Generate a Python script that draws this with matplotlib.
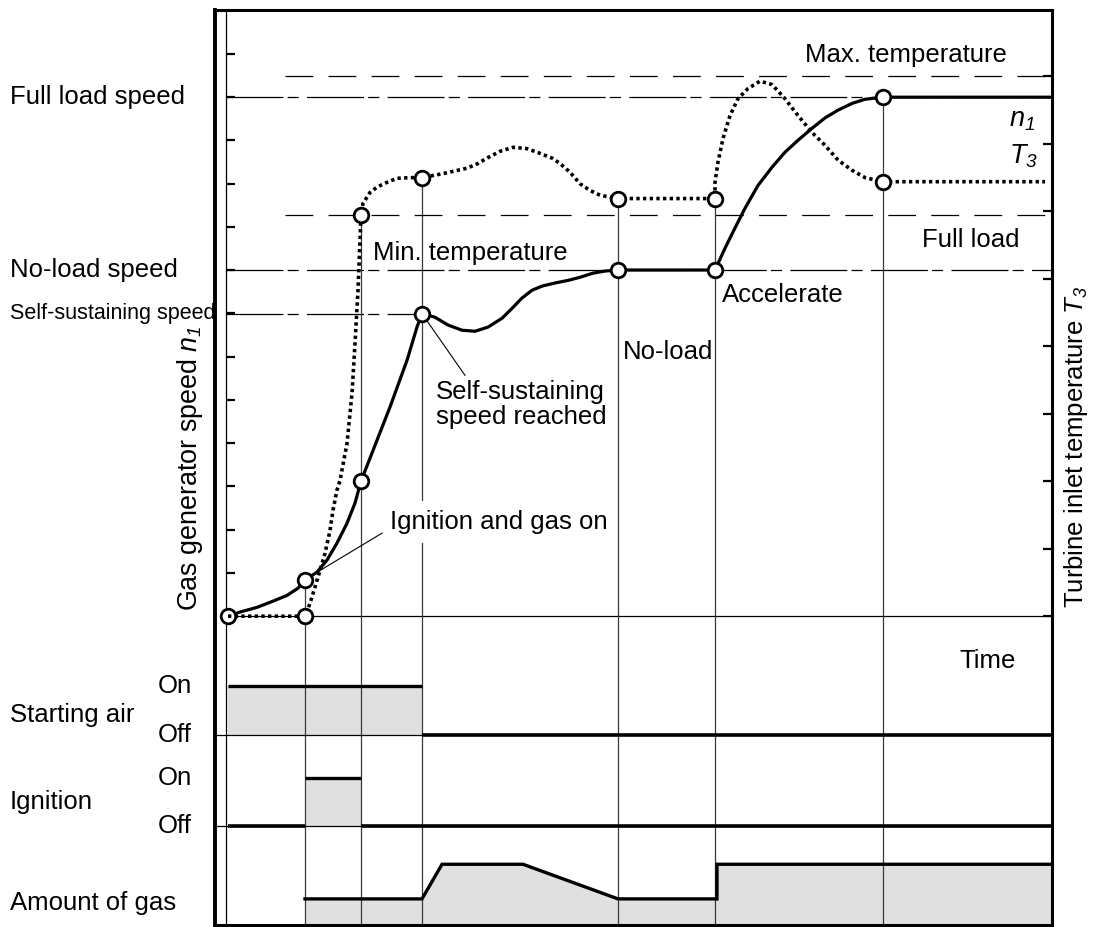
import numpy as np
import matplotlib.pyplot as plt
from matplotlib import font_manager
from matplotlib.transforms import blended_transform_factory

names = {f.name for f in font_manager.fontManager.ttflist}
plt.rcParams['font.family'] = 'Liberation Sans'
plt.rcParams['mathtext.fontset'] = 'custom'
plt.rcParams['mathtext.rm'] = 'Liberation Sans:italic'
plt.rcParams['mathtext.it'] = 'Liberation Sans:italic'
plt.rcParams['lines.scale_dashes'] = False

FS = 18.5

# event times (s) and the end of the time axis
events = [0, 7.7, 13.3, 19.4, 39.0, 48.7, 65.5]
t_end = 82.4

# gas generator speed n1, % of full load speed
n1_t = [0, 1.2, 2.9, 4.5, 5.9, 7.0, 7.7, 8.9, 9.9, 10.9, 11.9, 12.7, 13.3,
        14.9, 16.2, 17.9, 18.9, 19.4,
        20.7, 22.0, 23.4, 24.7, 26.0, 27.4, 28.4, 29.4, 30.4, 31.4, 32.7, 34.0,
        35.2, 36.5, 37.7, 39.0,
        48.7, 49.7, 50.7, 51.7, 53.0, 54.4, 55.7, 57.0, 58.4, 59.7, 61.0, 62.4,
        63.7, 65.5, 82.4]
n1_v = [0, 0.8, 1.7, 2.9, 4.0, 5.4, 6.9, 8.5, 10.8, 14.1, 17.9, 21.8, 26.0,
        33.9, 40.3, 49.3, 55.7, 58.3,
        57.6, 56.1, 55.1, 54.9, 55.7, 57.4, 59.3, 61.3, 62.8, 63.6, 64.2, 64.7,
        65.3, 66.1, 66.5, 66.7,
        66.7, 70.9, 74.8, 78.6, 83.0, 86.5, 89.4, 91.7, 94.0, 96.0, 97.5, 98.8,
        99.6, 100, 100]
n1_mark = [0, 6.9, 26.0, 58.3, 66.7, 66.7, 100]

# turbine inlet temperature T3, in right-axis tick steps
T3_t = [0, 7.7, 8.2, 8.7, 9.2, 9.7, 10.2, 10.5, 10.9, 11.2, 11.9, 12.4, 12.7,
        13.0, 13.2, 13.3,
        13.5, 14.2, 14.9, 15.9, 16.9, 18.2, 19.4,
        21.5, 23.9, 25.0, 25.9, 27.2, 28.5, 29.9, 31.2, 32.4, 33.2, 34.2, 35.2,
        36.2, 37.2, 38.2, 39.0,
        48.7, 48.7, 49.0, 49.5, 50.2, 51.0, 52.0, 53.2, 54.4, 55.7, 57.0, 58.4,
        59.7, 61.0, 62.4, 63.7, 65.5, 81.7]
T3_v = [0, 0, 0.19, 0.43, 0.68, 0.93, 1.27, 1.57, 1.87, 2.01, 2.56, 3.30, 4.04,
        4.83, 5.57, 5.95,
        6.12, 6.28, 6.36, 6.43, 6.49, 6.50, 6.50,
        6.56, 6.64, 6.71, 6.79, 6.89, 6.95, 6.93, 6.86, 6.79, 6.71, 6.58, 6.41,
        6.31, 6.24, 6.21, 6.19,
        6.19, 6.43, 6.73, 7.08, 7.42, 7.67, 7.82, 7.93, 7.88, 7.67, 7.42, 7.17,
        6.98, 6.76, 6.61, 6.50, 6.44, 6.44]
T3_mark_t = events[1:]
T3_mark = [0, 5.95, 6.50, 6.19, 6.19, 6.44]

full_load_speed = 100
no_load_speed = 66.7
self_sust_speed = 58.3
T3_max = 8.0
T3_min = 5.95
T3_SCALE = 13.0  # % of n1 per T3 step

# lower panel signals
air_on = (0, 19.4)
ign_on = (7.7, 13.3)
gas_t = [7.7, 19.4, 21.4, 29.5, 39.0, 48.9, 48.9, t_end]
gas_v = [0.43, 0.43, 1, 1, 0.43, 0.43, 1, 1]

# row levels of the lower panel (in n1 % units)
air_off, air_hi = -22.9, -13.5
ign_off, ign_hi = -40.5, -31.2
gas_zero, gas_span = -59.5, 11.7
ylo, yhi = -59.5, 116.8
xlo = -1.3
x_inner = -0.2

GRAY = '#e0e0e0'
VCOL = '#3a3a3a'

fig = plt.figure(figsize=(10.94, 9.27), dpi=100)
ax = fig.add_axes([215/1094, 2/927, 837/1094, 915/927])
ax.set_xlim(xlo, t_end)
ax.set_ylim(ylo, yhi)

# frame
for s in ['top', 'bottom']:
    ax.spines[s].set_linewidth(2.2)
ax.spines['right'].set_visible(False)
ax.spines['left'].set_position(('data', x_inner))
ax.spines['left'].set_linewidth(0.9)
ax.axvline(xlo, color='black', lw=2.8, clip_on=False)
ax.set_xticks([])
ax.set_yticks([k * 100 / 12 for k in range(1, 14)])
ax.tick_params(axis='y', direction='in', length=6.5, width=1.6, labelleft=False)

# reference lines
dashdot = (0, (41, 3, 8, 6))
dashed = (0, (20, 11))
ax.plot([x_inner, t_end], [full_load_speed] * 2, color='black', lw=0.9, linestyle=dashdot, zorder=1)
ax.plot([x_inner, t_end], [no_load_speed] * 2, color='black', lw=0.9, linestyle=dashdot, zorder=1)
ax.plot([x_inner, events[3]], [self_sust_speed] * 2, color='black', lw=0.9, linestyle=dashdot, zorder=1)
ax.plot([x_inner, t_end], [0, 0], color='black', lw=0.9, zorder=1)

# vertical event lines from the highest marker down
tops = [max(a, b * T3_SCALE) for a, b in zip(n1_mark[1:], T3_mark)]
ax.vlines(events[1:], ylo, tops, color=VCOL, lw=0.9, zorder=1)

# n1 curve
ax.plot(n1_t, n1_v, color='black', lw=2.3, solid_joinstyle='round', zorder=3)
ax.plot(events, n1_mark, 'o', ms=10.5, mfc='white', mec='black', mew=2, zorder=6)

# T3 on its own scale
tw = ax.twinx()
tw.set_ylim(ylo / T3_SCALE, yhi / T3_SCALE)
for s in ['top', 'bottom', 'left']:
    tw.spines[s].set_visible(False)
tw.spines['right'].set_linewidth(2.2)
tw.set_yticks(range(0, 9))
tw.tick_params(axis='y', direction='in', length=6.5, width=1.6, labelright=False)
tw.plot([5.7, 81.7], [T3_max] * 2, color='black', lw=0.9, linestyle=dashed, zorder=1)
tw.plot([5.7, 81.7], [T3_min] * 2, color='black', lw=0.9, linestyle=dashed, zorder=1)
tw.plot(T3_t, T3_v, color='black', lw=2.6, linestyle=(0, (2.4, 2.4)),
        dash_capstyle='butt', zorder=3)
tw.plot(T3_mark_t, T3_mark, 'o', ms=10.5, mfc='white', mec='black', mew=2, zorder=6)

# lower panel: starting air
ax.fill_between(air_on, air_off, air_hi, color=GRAY, lw=0, zorder=0.5)
ax.plot([xlo, air_on[1]], [air_off] * 2, color='black', lw=0.9, zorder=1.5)
ax.plot(air_on, [air_hi] * 2, color='black', lw=2.4, solid_capstyle='butt', zorder=2)
ax.plot([air_on[1], t_end], [air_off] * 2, color='black', lw=2.6, solid_capstyle='butt', zorder=2)

# ignition
ax.fill_between(ign_on, ign_off, ign_hi, color=GRAY, lw=0, zorder=0.5)
ax.plot([xlo, t_end], [ign_off] * 2, color='black', lw=0.9, zorder=1.5)
ax.plot(ign_on, [ign_hi] * 2, color='black', lw=2.4, solid_capstyle='butt', zorder=2)
ax.plot([0, ign_on[0]], [ign_off] * 2, color='black', lw=2.6, solid_capstyle='butt', zorder=2)
ax.plot([ign_on[1], t_end], [ign_off] * 2, color='black', lw=2.6, solid_capstyle='butt', zorder=2)

# amount of gas
gas_y = gas_zero + gas_span * np.array(gas_v)
ax.fill_between(gas_t, gas_zero, gas_y, color=GRAY, lw=0, zorder=0.5)
ax.plot(gas_t, gas_y, color='black', lw=2.4, solid_joinstyle='miter', zorder=2)

# leader lines
ax.plot([19.4, 23.7], [58.3, 46.4], color='black', lw=0.8, zorder=4)
ax.plot([7.9, 15.4], [7.3, 16.0], color='black', lw=0.8, zorder=4)

# texts inside the frame
ax.text(57.7, 108.1, 'Max. temperature', fontsize=FS, va='center')
ax.text(80.7, 95.6, r'$n_1$', fontsize=FS + 1, ha='right', va='center')
ax.text(81.0, 88.6, r'$T_3$', fontsize=FS + 1, ha='right', va='center')
ax.text(69.4, 72.4, 'Full load', fontsize=FS, va='center')
ax.text(49.4, 61.8, 'Accelerate', fontsize=FS, va='center')
ax.text(14.5, 69.9, 'Min. temperature', fontsize=FS, va='center')
ax.text(39.5, 50.9, 'No-load', fontsize=FS, va='center')
ax.text(20.8, 40.7, 'Self-sustaining\nspeed reached', fontsize=FS, va='center',
        linespacing=1.05)
ax.text(16.2, 18.1, 'Ignition and gas on', fontsize=FS, va='center', zorder=3.5,
        bbox=dict(boxstyle='square,pad=0.35', fc='white', ec='none'))
ax.text(73.1, -8.7, 'Time', fontsize=FS, va='center')

# labels outside the frame
bt = blended_transform_factory(fig.transFigure, ax.transData)
x0 = 10 / 1094
ax.text(x0, full_load_speed, 'Full load speed', transform=bt, fontsize=FS, va='center')
ax.text(x0, no_load_speed, 'No-load speed', transform=bt, fontsize=FS, va='center')
if 'Liberation Sans Narrow' in names:
    ax.text(x0, self_sust_speed, 'Self-sustaining speed', transform=bt,
            fontsize=FS, va='center', family='Liberation Sans Narrow')
else:
    ax.text(x0, self_sust_speed, 'Self-sustaining speed', transform=bt,
            fontsize=15.5, va='center')
ax.text(190 / 1094, 28.6, r'Gas generator speed $n_1$', transform=bt,
        fontsize=19.4, rotation=90, ha='center', va='center')
ax.text(1076 / 1094, 32.6, r'Turbine inlet temperature $T_3$', transform=bt,
        fontsize=FS, rotation=90, ha='center', va='center')

xo = 158 / 1094
ax.text(xo, air_hi, 'On', transform=bt, fontsize=FS, va='center')
ax.text(xo, air_off, 'Off', transform=bt, fontsize=FS, va='center')
ax.text(x0, -19.1, 'Starting air', transform=bt, fontsize=FS, va='center')
ax.text(xo, ign_hi, 'On', transform=bt, fontsize=FS, va='center')
ax.text(xo, ign_off, 'Off', transform=bt, fontsize=FS, va='center')
ax.text(x0, -35.8, 'Ignition', transform=bt, fontsize=FS, va='center')
ax.text(x0, -55.3, 'Amount of gas', transform=bt, fontsize=FS, va='center')

fig.savefig('out.png', dpi=100)
